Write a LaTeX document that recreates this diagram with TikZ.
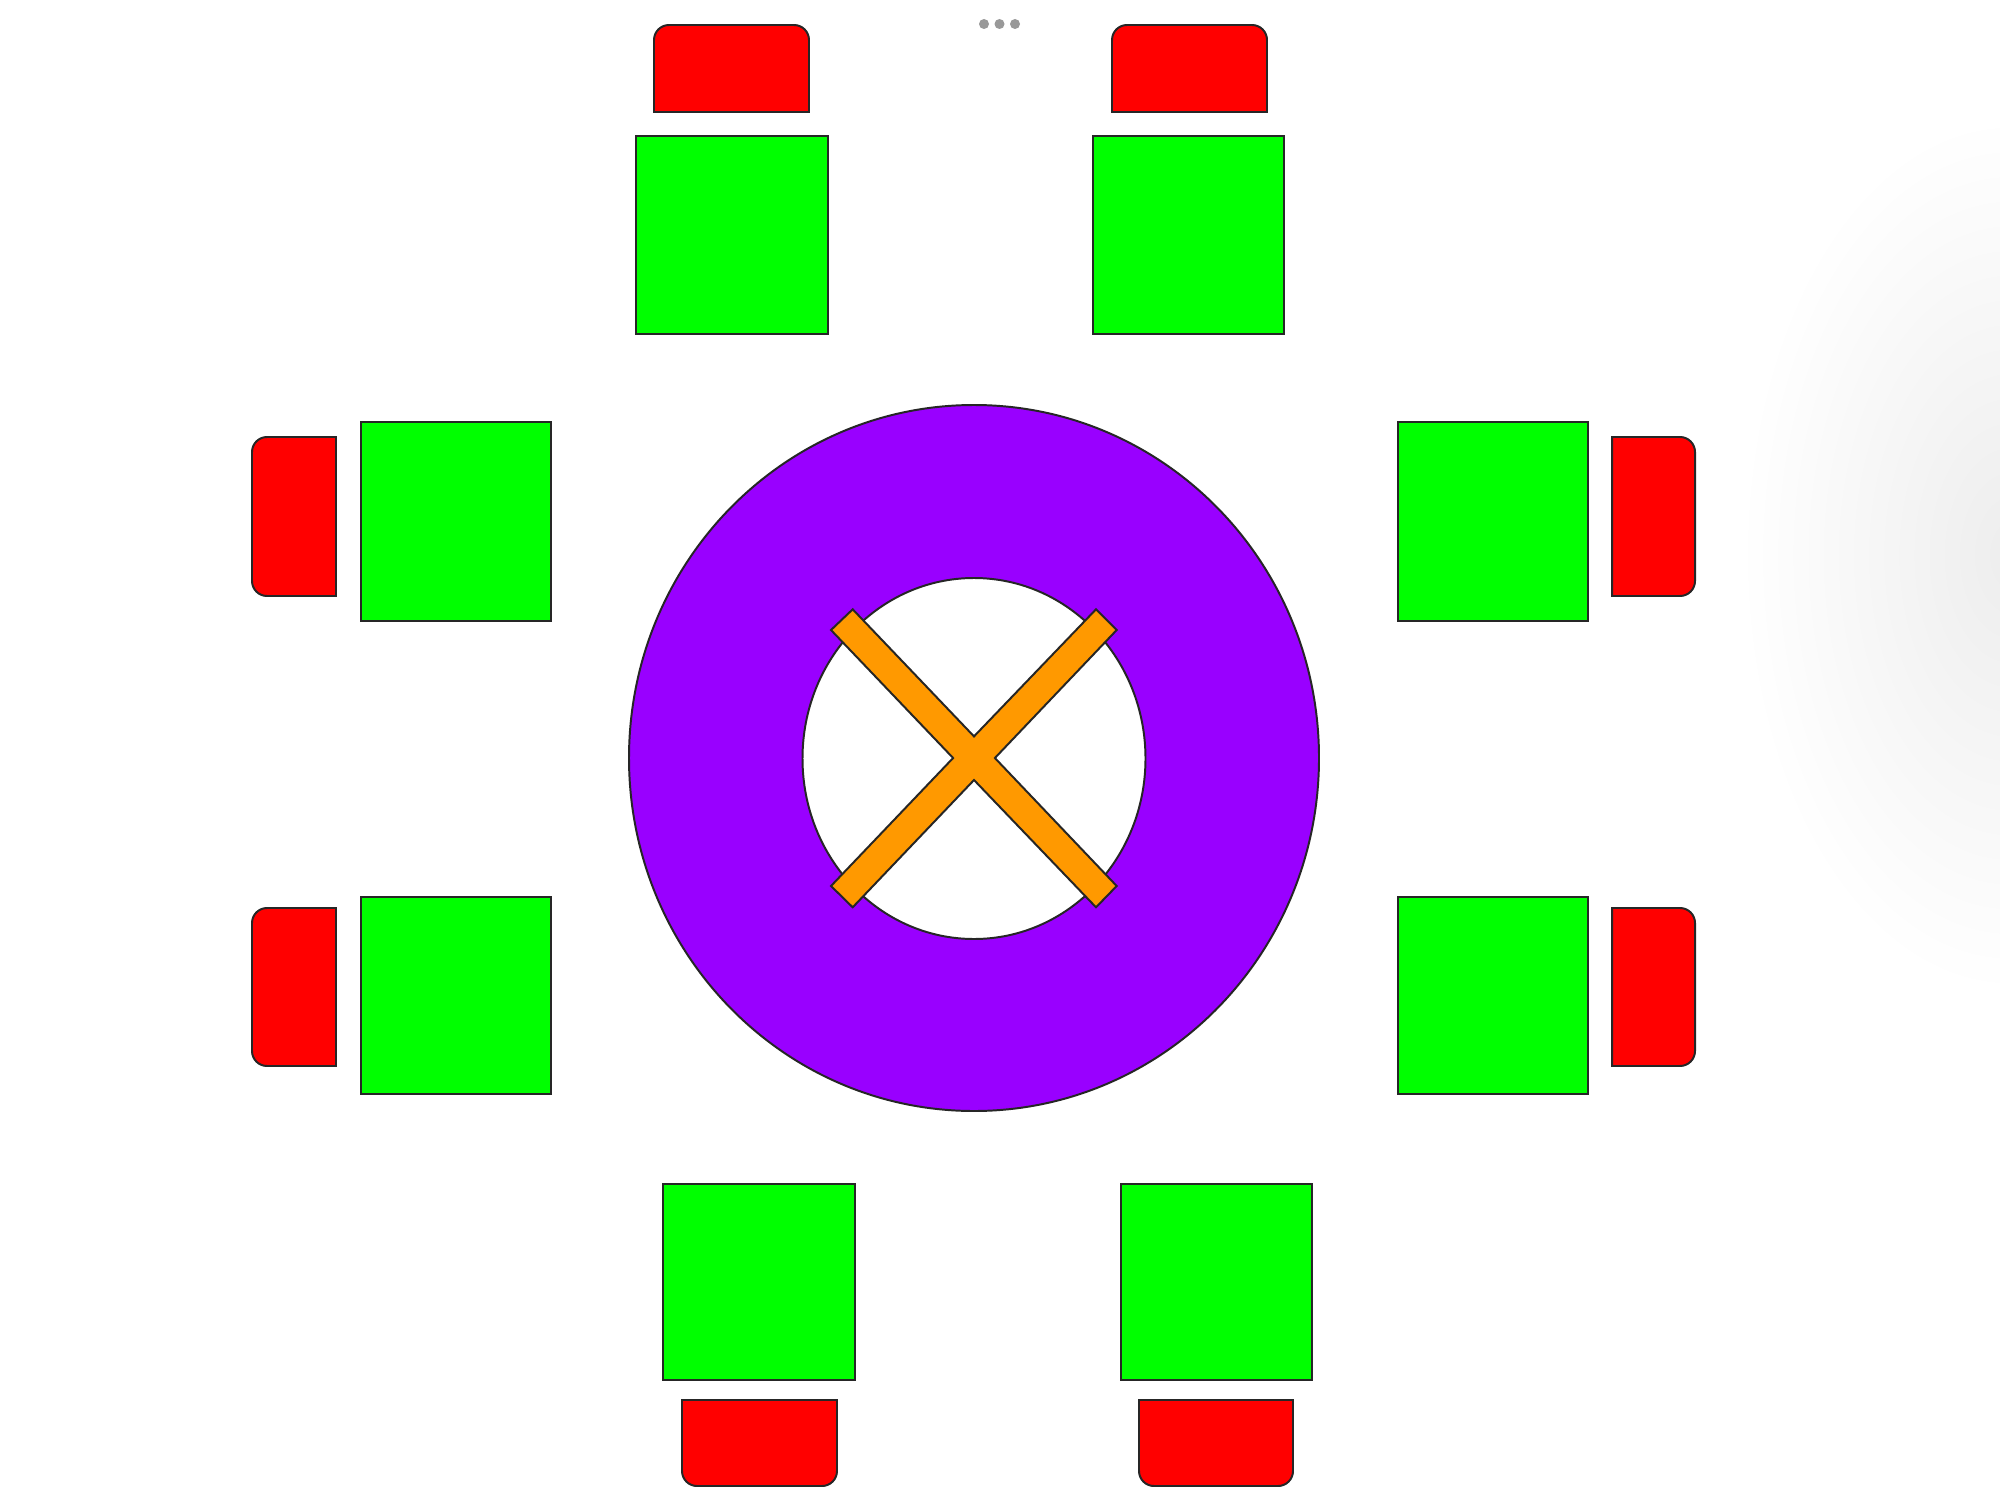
\documentclass[tikz,border=0pt]{standalone}
\begin{document}
\begin{tikzpicture}[x=0.5mm,y=-0.5mm,
  outl/.style={draw=black!85,line width=2.8pt,line join=miter},
  greenbox/.style={outl,fill={rgb,255:red,0;green,255;blue,0}},
  redbox/.style={outl,fill={rgb,255:red,255;green,0;blue,0}},
  ring/.style={outl,fill={rgb,255:red,153;green,0;blue,255}},
  hole/.style={outl,fill=white},
  crossbar/.style={outl,fill={rgb,255:red,255;green,153;blue,0}},
  dot/.style={fill=black!40,draw=none},
  rc/.style={rounded corners=7.5mm}]
\useasboundingbox (0,0) rectangle (2000,1500);
\fill[white] (0,0) rectangle (2000,1500);
% faint glow at right edge
\pgfdeclareradialshading{glow}{\pgfpoint{0bp}{0bp}}{color(0bp)=(black!7); color(25bp)=(white); color(50bp)=(white)}
\begin{scope}
\clip (0,0) rectangle (2000,1500);
\shade[shading=glow] (2010,555) ellipse [x radius=270,y radius=440];
\end{scope}
% menu dots
\fill[dot] (984,24) circle [radius=5];
\fill[dot] (999.5,24) circle [radius=5];
\fill[dot] (1015,24) circle [radius=5];
% top seats
\draw[redbox] (731,112) -- (654,112) [rc] -- (654,25) -- (809,25) [sharp corners] -- (809,112) -- cycle;
\draw[greenbox] (636,136) rectangle (828,334);
\draw[redbox] (1189,112) -- (1112,112) [rc] -- (1112,25) -- (1267,25) [sharp corners] -- (1267,112) -- cycle;
\draw[greenbox] (1093,136) rectangle (1284,334);
% left seats
\draw[redbox] (336,516) -- (336,596) [rc] -- (252,596) -- (252,437) [sharp corners] -- (336,437) -- cycle;
\draw[greenbox] (361,422) rectangle (551,621);
\draw[redbox] (336,987) -- (336,1066) [rc] -- (252,1066) -- (252,908) [sharp corners] -- (336,908) -- cycle;
\draw[greenbox] (361,897) rectangle (551,1094);
% right seats
\draw[redbox] (1612,516) -- (1612,437) [rc] -- (1695,437) -- (1695,596) [sharp corners] -- (1612,596) -- cycle;
\draw[greenbox] (1398,422) rectangle (1588,621);
\draw[redbox] (1612,987) -- (1612,908) [rc] -- (1695,908) -- (1695,1066) [sharp corners] -- (1612,1066) -- cycle;
\draw[greenbox] (1398,897) rectangle (1588,1094);
% bottom seats
\draw[redbox] (760,1400) -- (837,1400) [rc] -- (837,1486) -- (682,1486) [sharp corners] -- (682,1400) -- cycle;
\draw[greenbox] (663,1184) rectangle (855,1380);
\draw[redbox] (1216,1400) -- (1293,1400) [rc] -- (1293,1486) -- (1139,1486) [sharp corners] -- (1139,1400) -- cycle;
\draw[greenbox] (1121,1184) rectangle (1312,1380);
% central table
\draw[ring] (974,758) ellipse [x radius=345,y radius=353];
\draw[hole] (974,758.5) ellipse [x radius=171.5,y radius=180.5];
% cross
\draw[crossbar] (831,630) -- (852.7,609.3) -- (974,736.4) -- (1096,609.3) -- (1116.7,630)
  -- (994.9,758) -- (1116.7,886) -- (1096,907.3) -- (974,780) -- (852.7,907.3)
  -- (831,886) -- (953.1,758) -- cycle;
\end{tikzpicture}
\end{document}
